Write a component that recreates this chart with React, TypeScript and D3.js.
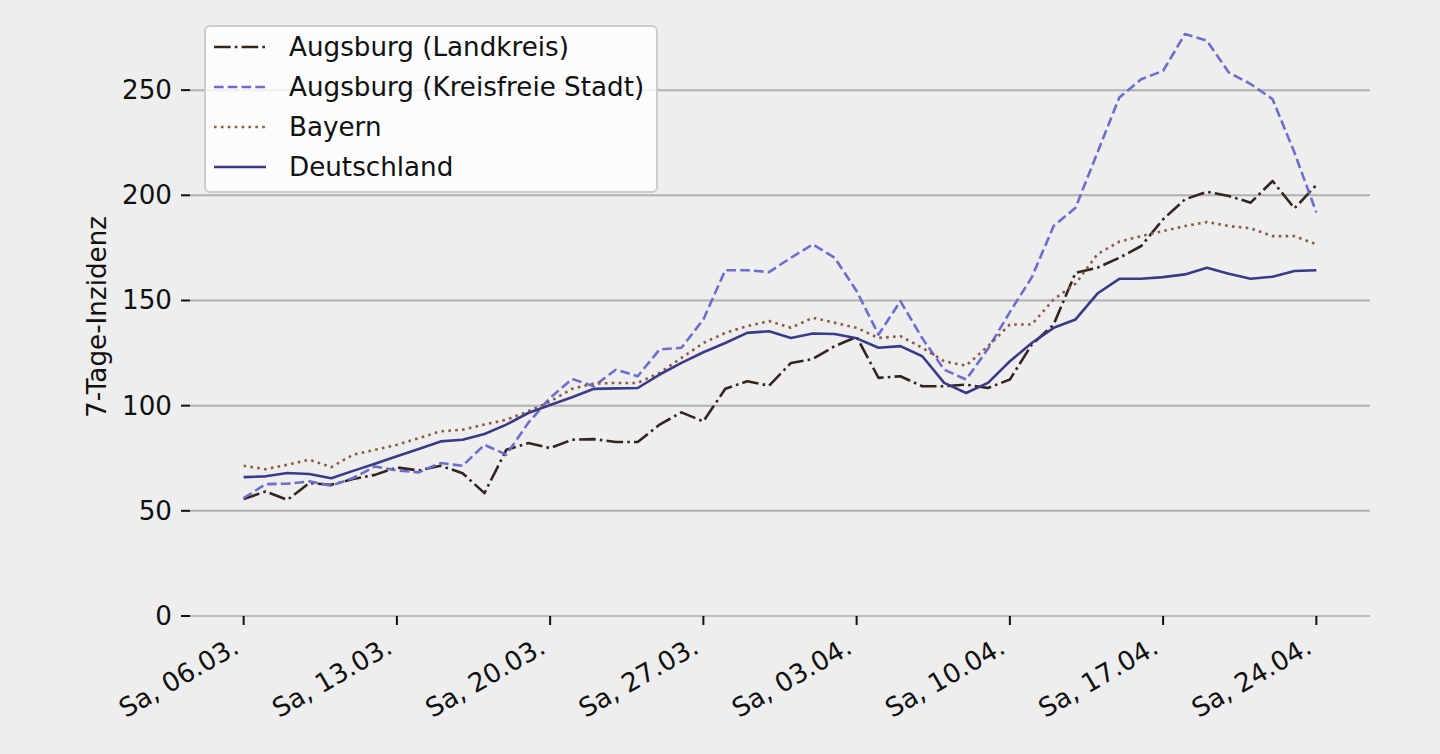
import * as d3 from "d3";

const W = 1440;
const H = 754;

const FONT = "DejaVu Sans";
const FS = 26.2;
const BG = "#eeeeee";

// plot area
const PLOT = { left: 190, right: 1370, top: 6, bottom: 616 };

const START = new Date(2021, 2, 6); // Sa, 06.03.2021
const END = new Date(2021, 3, 24); // Sa, 24.04.2021

const days = d3.timeDay.range(START, d3.timeDay.offset(END, 1));

const tickLabels = [
  "Sa, 06.03.",
  "Sa, 13.03.",
  "Sa, 20.03.",
  "Sa, 27.03.",
  "Sa, 03.04.",
  "Sa, 10.04.",
  "Sa, 17.04.",
  "Sa, 24.04.",
];

const yTicks = [0, 50, 100, 150, 200, 250];

const landkreis = [
  55.6, 59.2, 55.2, 63.2, 62.4, 65.1, 67.1, 70.6, 69.2, 71.4,
  67.9, 58.4, 79, 82.2, 79.8, 83.8, 84.1, 82.7, 82.7, 91,
  96.8, 92.5, 108, 111.6, 109.5, 120.3, 122.2, 128.3, 132.7, 113.2,
  114, 109.2, 109.2, 110, 108.4, 112.4, 129, 138.6, 163.2, 165.6,
  170.3, 175.9, 188.6, 198.1, 201.7, 199.7, 196.5, 206.8, 193.8, 204.9,
];

const stadt = [
  56, 62.7, 62.9, 64, 61.9, 65.6, 71.1, 69.2, 68.3, 72.7,
  71.4, 81.4, 76.7, 91.8, 103.7, 112.7, 109.2, 117.1, 114, 126.7,
  127.5, 141, 164.4, 164.4, 163.5, 170.3, 176.7, 170.3, 154.5, 133.8,
  149.7, 132, 117.1, 112.4, 127, 144.5, 161, 185.4, 194.1, 220.3,
  246.5, 255.2, 259.2, 276.7, 273.5, 258.4, 252.9, 245.7, 220.3, 191.8,
];

const bayern = [
  71.4, 69.8, 71.9, 74.3, 70.8, 76.7, 79, 81.4, 84.6, 87.8,
  88.6, 91, 93.3, 97.3, 102, 108, 110.5, 110.8, 110.8, 115.6,
  122.7, 129.8, 134.6, 137.8, 140.2, 137, 141.8, 139.4, 137, 132.2,
  133, 127.5, 121.1, 119, 128.3, 138.6, 138.6, 150.5, 158, 172,
  178, 180.6, 183, 185.4, 187.3, 185.4, 184.3, 180.6, 180.6, 176.7,
];

const deutschland = [
  66, 66.4, 68, 67.5, 65.5, 69, 72.4, 75.9, 79.4, 83,
  83.8, 86.5, 91, 96.5, 100.3, 104, 108, 108.2, 108.4, 114.8,
  120.3, 125.4, 129.8, 134.6, 135.4, 132.2, 134.3, 134.1, 132, 127.5,
  128.3, 123.5, 110.8, 106, 110.8, 121.1, 129.8, 137, 141, 153.3,
  160.3, 160.3, 161.1, 162.4, 165.6, 162.7, 160.3, 161.3, 164, 164.4,
];

const LW = 2.6;

const SERIES = [
  { label: "Augsburg (Landkreis)", data: landkreis, color: "#33251d", dash: [6.4, 1.6, 1, 1.6] },
  { label: "Augsburg (Kreisfreie Stadt)", data: stadt, color: "#6b6ecf", dash: [3.7, 1.6] },
  { label: "Bayern", data: bayern, color: "#8c5a45", dash: [1, 1.65] },
  { label: "Deutschland", data: deutschland, color: "#393b89", dash: null as number[] | null },
];

const dashArray = (d: number[] | null) =>
  d ? d.map((v) => (v * LW).toFixed(2)).join(",") : undefined;

export default function App() {
  const span = END.getTime() - START.getTime();
  const x = d3
    .scaleTime()
    .domain([new Date(START.getTime() - span * 0.05), new Date(END.getTime() + span * 0.05)])
    .range([PLOT.left, PLOT.right]);

  const y = d3.scaleLinear().domain([0, 290]).range([PLOT.bottom, PLOT.top]);

  // one tick per saturday, starting at START
  const weekTicks = d3.range(tickLabels.length).map((i) => d3.timeDay.offset(START, i * 7));

  const line = d3
    .line<number>()
    .x((_, i) => x(days[i]))
    .y((d) => y(d));

  // legend
  const leg = { x: 205, y: 26, w: 452, h: 166, row: 40 };

  return (
    <svg
      width={W}
      height={H}
      style={{ position: "absolute", left: 0, top: 0, background: BG }}
      fontFamily={FONT}
    >
      <rect x={0} y={0} width={W} height={H} fill={BG} />

      {/* grid */}
      {yTicks.slice(1).map((t) => (
        <line
          key={t}
          x1={PLOT.left}
          x2={PLOT.right}
          y1={y(t)}
          y2={y(t)}
          stroke="#b0b0b0"
          strokeWidth={2}
        />
      ))}
      {/* bottom spine */}
      <line
        x1={PLOT.left}
        x2={PLOT.right}
        y1={PLOT.bottom}
        y2={PLOT.bottom}
        stroke="#bdbdbd"
        strokeWidth={2}
      />

      {/* y axis */}
      <g className="y-axis">
        {yTicks.map((t) => (
          <g key={t}>
            <line x1={PLOT.left - 9} x2={PLOT.left} y1={y(t)} y2={y(t)} stroke="#111" strokeWidth={2} />
            <text
              x={PLOT.left - 18}
              y={y(t)}
              fontSize={FS}
              textAnchor="end"
              dominantBaseline="central"
              fill="#111"
            >
              {t}
            </text>
          </g>
        ))}
        <text
          transform={`translate(97, ${(PLOT.top + PLOT.bottom) / 2 + 6}) rotate(-90)`}
          fontSize={FS}
          textAnchor="middle"
          dominantBaseline="central"
          fill="#111"
        >
          7-Tage-Inzidenz
        </text>
      </g>

      {/* x axis */}
      <g className="x-axis">
        {weekTicks.map((d, i) => {
          const tx = x(d);
          return (
            <g key={i}>
              <line x1={tx} x2={tx} y1={PLOT.bottom} y2={PLOT.bottom + 9} stroke="#111" strokeWidth={2} />
              <text
                transform={`translate(${tx - 3}, ${PLOT.bottom + 36}) rotate(-30)`}
                fontSize={FS}
                textAnchor="end"
                fill="#111"
              >
                {tickLabels[i]}
              </text>
            </g>
          );
        })}
      </g>

      {/* series */}
      <g className="series">
        {SERIES.map((s) => (
          <path
            key={s.label}
            d={line(s.data) ?? undefined}
            fill="none"
            stroke={s.color}
            strokeWidth={LW}
            strokeDasharray={dashArray(s.dash)}
            strokeLinejoin="round"
          />
        ))}
      </g>

      {/* legend */}
      <g className="legend">
        <rect
          x={leg.x}
          y={leg.y}
          width={leg.w}
          height={leg.h}
          rx={5}
          fill="#ffffff"
          fillOpacity={0.8}
          stroke="#cccccc"
          strokeWidth={2}
        />
        {SERIES.map((s, i) => {
          const cy = leg.y + 21 + i * leg.row;
          return (
            <g key={s.label}>
              <line
                x1={leg.x + 9}
                x2={leg.x + 61}
                y1={cy}
                y2={cy}
                stroke={s.color}
                strokeWidth={LW}
                strokeDasharray={dashArray(s.dash)}
              />
              <text
                x={leg.x + 84}
                y={cy}
                fontSize={FS}
                dominantBaseline="central"
                fill="#111"
              >
                {s.label}
              </text>
            </g>
          );
        })}
      </g>
    </svg>
  );
}
